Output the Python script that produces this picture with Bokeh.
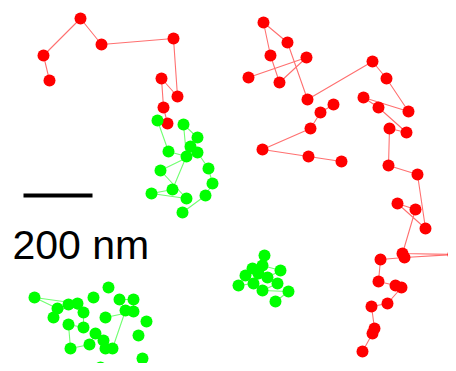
from bokeh.plotting import figure
from bokeh.models import Range1d
from bokeh.core.properties import value
from bokeh.embed import file_html
from bokeh.resources import INLINE

# Trajectory positions (image units, y grows downward)
red1_x = [49, 43, 80, 101, 173, 177, 161, 163, 167]
red1_y = [80, 55, 18, 44, 38, 96, 78, 107, 123]

red2_x = [248, 306, 279, 270, 263, 287, 307, 372, 386, 408, 363, 378, 406, 389, 388, 417, 425, 397, 415,
          402, 453, 404, 380, 378, 395, 401, 387, 371, 374, 372, 362]
red2_y = [77, 57, 82, 55, 22, 42, 99, 61, 78, 111, 97, 107, 132, 128, 165, 174, 228, 203, 209,
          253, 254, 257, 259, 281, 285, 287, 303, 306, 328, 333, 351]

red3_x = [333, 320, 310, 262, 308, 341]
red3_y = [104, 112, 128, 149, 156, 161]

green1_x = [157, 168, 186, 183, 197, 190, 172, 151, 186, 160, 197, 208, 212, 205, 182]
green1_y = [120, 151, 156, 124, 137, 146, 189, 193, 198, 170, 152, 168, 183, 195, 212]

green2_x = [264, 262, 280, 267, 252, 245, 238, 253, 258, 277, 262, 288, 275]
green2_y = [255, 265, 270, 277, 268, 275, 285, 283, 273, 283, 290, 291, 301]

green3_x = [77, 34, 57, 53, 68, 83, 83, 68, 70, 89, 95, 103, 105, 112, 125, 119, 133, 133, 105]
green3_y = [303, 297, 308, 317, 304, 312, 327, 324, 348, 344, 333, 340, 348, 348, 310, 299, 299, 311, 317]

green_single_x = [108, 93, 146, 138, 142, 100]
green_single_y = [287, 297, 321, 335, 358, 367]

scalebar_x = [23, 92]
scalebar_y = [195, 195]
scalebar_label = ["200 nm"]
label_x = [12]
label_y = [244]

p = figure(width=448, height=363, output_backend="svg", toolbar_location=None,
           x_range=Range1d(0, 448), y_range=Range1d(363, 0),
           x_axis_location=None, y_axis_location=None, min_border=0)
p.grid.visible = False
p.outline_line_color = None
p.background_fill_color = "white"
p.border_fill_color = "white"

RED = "#ff0000"
GREEN = "#00ff00"
RED_LINE = "#ff7070"
GREEN_LINE = "#70ff70"

for xs, ys in [(red1_x, red1_y), (red2_x, red2_y), (red3_x, red3_y)]:
    p.line(xs, ys, line_color=RED_LINE, line_width=1.1)
for xs, ys in [(green1_x, green1_y), (green2_x, green2_y), (green3_x, green3_y)]:
    p.line(xs, ys, line_color=GREEN_LINE, line_width=1.1)

for xs, ys in [(red1_x, red1_y), (red2_x, red2_y), (red3_x, red3_y)]:
    p.scatter(xs, ys, size=12, fill_color=RED, line_color=None)
for xs, ys in [(green1_x, green1_y), (green2_x, green2_y), (green3_x, green3_y), (green_single_x, green_single_y)]:
    p.scatter(xs, ys, size=12, fill_color=GREEN, line_color=None)

p.line(scalebar_x, scalebar_y, line_color="black", line_width=4)
p.text(label_x, label_y, text=scalebar_label, text_font=value("Liberation Sans"),
       text_font_size=value("41px"), text_color="black", text_baseline="alphabetic", text_align="left")

open("out.html", "w").write(file_html(p, INLINE))
